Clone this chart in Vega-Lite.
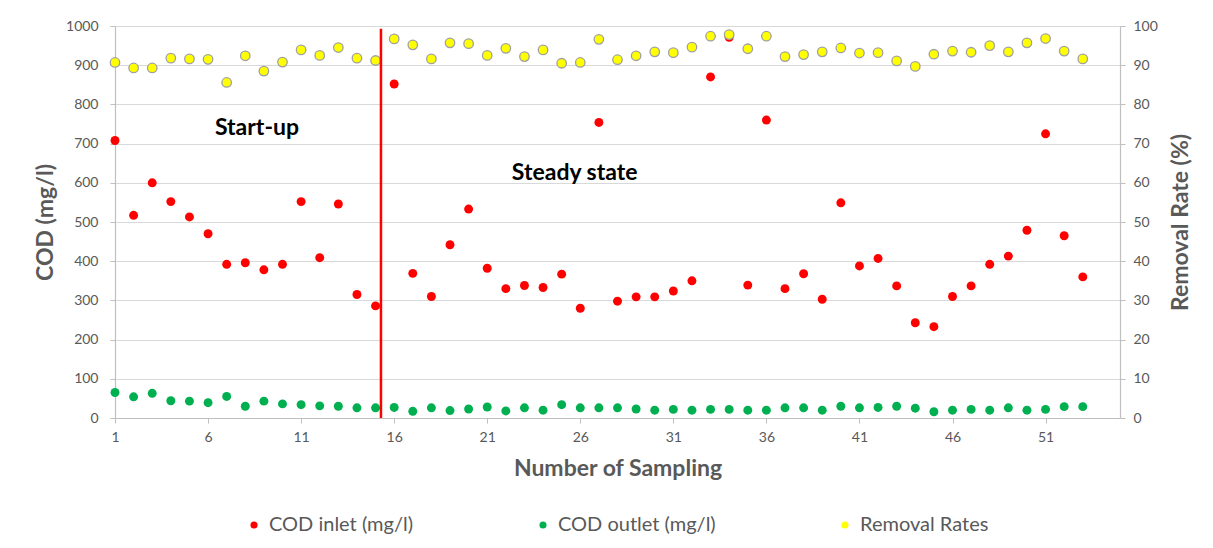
{
  "$schema": "https://vega.github.io/schema/vega-lite/v6.json",
  "width": 1005,
  "height": 392,
  "autosize": {"type": "none"},
  "padding": {"left": 115, "top": 26, "right": 93, "bottom": 130},
  "background": "white",
  "config": {
    "font": "Lato",
    "view": {"stroke": null},
    "axis": {
      "labelFont": "Lato", "labelFontSize": 14, "labelColor": "#595959", "labelFlush": false,
      "titleFont": "Lato", "titleFontSize": 23, "titleFontWeight": "bold", "titleColor": "#595959",
      "domain": true, "domainColor": "#bfbfbf", "domainWidth": 1.2, "tickColor": "#bfbfbf", "gridColor": "#d9d9d9", "gridWidth": 1.2
    }
  },
  "data": {"values": [
    {"n":1,"inlet":708,"outlet":65,"removal":90.7},
    {"n":2,"inlet":517,"outlet":54,"removal":89.3},
    {"n":3,"inlet":600,"outlet":63,"removal":89.3},
    {"n":4,"inlet":552,"outlet":44,"removal":91.8},
    {"n":5,"inlet":513,"outlet":43,"removal":91.6},
    {"n":6,"inlet":470,"outlet":39,"removal":91.5},
    {"n":7,"inlet":392,"outlet":55,"removal":85.6},
    {"n":8,"inlet":396,"outlet":30,"removal":92.4},
    {"n":9,"inlet":378,"outlet":43,"removal":88.5},
    {"n":10,"inlet":392,"outlet":36,"removal":90.8},
    {"n":11,"inlet":552,"outlet":34,"removal":93.9},
    {"n":12,"inlet":409,"outlet":31,"removal":92.5},
    {"n":13,"inlet":546,"outlet":30,"removal":94.5},
    {"n":14,"inlet":315,"outlet":26,"removal":91.8},
    {"n":15,"inlet":286,"outlet":26,"removal":91.2},
    {"n":16,"inlet":852,"outlet":27,"removal":96.7},
    {"n":17,"inlet":369,"outlet":17,"removal":95.2},
    {"n":18,"inlet":310,"outlet":26,"removal":91.6},
    {"n":19,"inlet":442,"outlet":19,"removal":95.7},
    {"n":20,"inlet":533,"outlet":23,"removal":95.5},
    {"n":21,"inlet":382,"outlet":28,"removal":92.5},
    {"n":22,"inlet":330,"outlet":18,"removal":94.3},
    {"n":23,"inlet":338,"outlet":26,"removal":92.2},
    {"n":24,"inlet":333,"outlet":20,"removal":93.9},
    {"n":25,"inlet":367,"outlet":34,"removal":90.5},
    {"n":26,"inlet":280,"outlet":26,"removal":90.7},
    {"n":27,"inlet":754,"outlet":26,"removal":96.6},
    {"n":28,"inlet":298,"outlet":26,"removal":91.4},
    {"n":29,"inlet":309,"outlet":23,"removal":92.4},
    {"n":30,"inlet":309,"outlet":20,"removal":93.4},
    {"n":31,"inlet":324,"outlet":22,"removal":93.2},
    {"n":32,"inlet":350,"outlet":20,"removal":94.6},
    {"n":33,"inlet":870,"outlet":22,"removal":97.4},
    {"n":34,"inlet":971,"outlet":22,"removal":97.8},
    {"n":35,"inlet":339,"outlet":20,"removal":94.2},
    {"n":36,"inlet":760,"outlet":20,"removal":97.4},
    {"n":37,"inlet":330,"outlet":26,"removal":92.2},
    {"n":38,"inlet":368,"outlet":26,"removal":92.7},
    {"n":39,"inlet":303,"outlet":20,"removal":93.4},
    {"n":40,"inlet":549,"outlet":30,"removal":94.4},
    {"n":41,"inlet":388,"outlet":26,"removal":93.1},
    {"n":42,"inlet":407,"outlet":27,"removal":93.2},
    {"n":43,"inlet":337,"outlet":30,"removal":91.1},
    {"n":44,"inlet":243,"outlet":25,"removal":89.7},
    {"n":45,"inlet":233,"outlet":16,"removal":92.8},
    {"n":46,"inlet":310,"outlet":20,"removal":93.6},
    {"n":47,"inlet":337,"outlet":22,"removal":93.3},
    {"n":48,"inlet":392,"outlet":20,"removal":95.0},
    {"n":49,"inlet":413,"outlet":26,"removal":93.4},
    {"n":50,"inlet":479,"outlet":20,"removal":95.7},
    {"n":51,"inlet":725,"outlet":22,"removal":96.8},
    {"n":52,"inlet":465,"outlet":29,"removal":93.6},
    {"n":53,"inlet":360,"outlet":29,"removal":91.6}
  ]},
  "layer": [
    {
      "transform": [{"fold": ["inlet", "outlet"], "as": ["series", "cod"]}],
      "mark": {"type": "circle", "size": 80, "opacity": 1},
      "encoding": {
        "x": {
          "field": "n", "type": "quantitative",
          "scale": {"domain": [1, 55], "nice": false, "zero": false},
          "axis": {
            "values": [1, 6, 11, 16, 21, 26, 31, 36, 41, 46, 51], "format": "d",
            "title": "Number of Sampling", "grid": false, "tickSize": 5,
            "labelPadding": 7, "titlePadding": 13
          }
        },
        "y": {
          "field": "cod", "type": "quantitative",
          "scale": {"domain": [0, 1000], "nice": false},
          "axis": {
            "orient": "left", "values": [0, 100, 200, 300, 400, 500, 600, 700, 800, 900, 1000], "format": "d",
            "title": "COD (mg/l)", "tickSize": 5, "labelPadding": 12, "titlePadding": 8, "grid": true
          }
        },
        "color": {
          "field": "series", "type": "nominal",
          "scale": {"domain": ["inlet", "outlet", "removal"], "range": ["#ff0000", "#00b050", "#ffff00"]},
          "legend": {
            "orient": "none", "legendX": 129, "legendY": 489, "direction": "horizontal",
            "title": null, "padding": 0,
            "labelExpr": "datum.value === 'inlet' ? 'COD inlet (mg/l)' : datum.value === 'outlet' ? 'COD outlet (mg/l)' : 'Removal Rates'",
            "labelFont": "Lato", "labelFontSize": 20, "labelColor": "#595959",
            "symbolType": "circle", "symbolSize": 50, "labelOffset": 5, "columnPadding": 119,
            "labelLimit": 400,
            "symbolStrokeWidth": 1
          }
        }
      }
    },
    {
      "mark": {"type": "circle", "size": 90, "opacity": 1, "stroke": "#a0a0a0", "strokeWidth": 1.3},
      "encoding": {
        "x": {
          "field": "n", "type": "quantitative",
          "scale": {"domain": [1, 55], "nice": false, "zero": false},
          "axis": {
            "values": [1, 6, 11, 16, 21, 26, 31, 36, 41, 46, 51], "format": "d",
            "title": "Number of Sampling", "grid": false, "tickSize": 5,
            "labelPadding": 7, "titlePadding": 13
          }
        },
        "y": {
          "field": "removal", "type": "quantitative",
          "scale": {"domain": [0, 100], "nice": false},
          "axis": {
            "orient": "right", "values": [0, 10, 20, 30, 40, 50, 60, 70, 80, 90, 100], "format": "d",
            "title": "Removal Rate (%)", "grid": false, "tickSize": 5, "labelPadding": 8, "titlePadding": 12,
            "titleAngle": -90, "titleBaseline": "top"
          }
        },
        "color": {"datum": "removal"}
      }
    },
    {
      "data": {"values": [{"x": 15.29, "top": 993, "bottom": 0}]},
      "mark": {"type": "rule", "color": "#ff0000", "strokeWidth": 2.5},
      "encoding": {
        "x": {
          "field": "x", "type": "quantitative",
          "scale": {"domain": [1, 55], "nice": false, "zero": false},
          "axis": {
            "values": [1, 6, 11, 16, 21, 26, 31, 36, 41, 46, 51], "format": "d",
            "title": "Number of Sampling", "grid": false, "tickSize": 5,
            "labelPadding": 7, "titlePadding": 13
          }
        },
        "y": {"field": "top", "type": "quantitative", "scale": {"domain": [0, 1000], "nice": false}, "axis": null},
        "y2": {"field": "bottom"}
      }
    },
    {
      "data": {"values": [
        {"x": 8.63, "y": 739, "label": "Start-up"},
        {"x": 25.7, "y": 624, "label": "Steady state"}
      ]},
      "mark": {"type": "text", "font": "Lato", "fontSize": 23, "fontWeight": "bold", "color": "black", "baseline": "middle", "align": "center"},
      "encoding": {
        "x": {
          "field": "x", "type": "quantitative",
          "scale": {"domain": [1, 55], "nice": false, "zero": false},
          "axis": {
            "values": [1, 6, 11, 16, 21, 26, 31, 36, 41, 46, 51], "format": "d",
            "title": "Number of Sampling", "grid": false, "tickSize": 5,
            "labelPadding": 7, "titlePadding": 13
          }
        },
        "y": {"field": "y", "type": "quantitative", "scale": {"domain": [0, 1000], "nice": false}, "axis": null},
        "text": {"field": "label"}
      }
    }
  ],
  "resolve": {"scale": {"y": "independent"}}
}
